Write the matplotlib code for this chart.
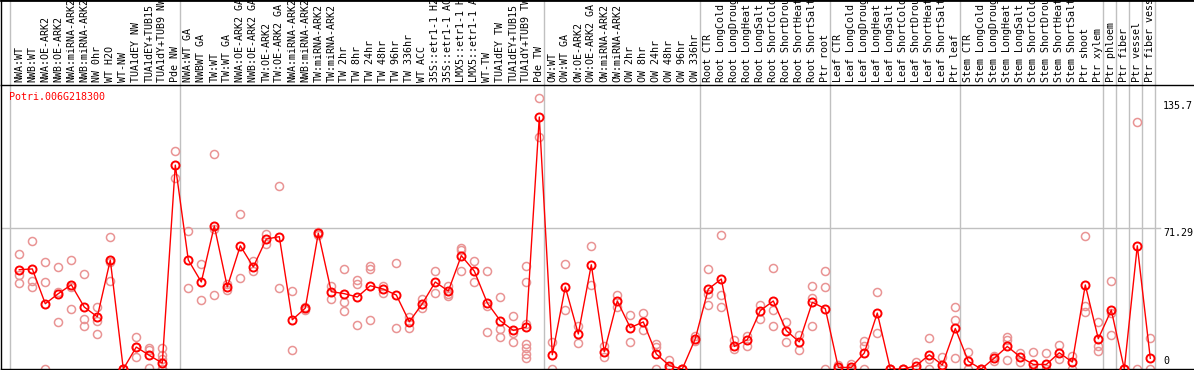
import matplotlib
matplotlib.use("Agg")
import matplotlib.pyplot as plt

# sample names (one column each)
samples = [
    "NWA:WT", "NWB:WT", "NWA:OE-ARK2", "NWB:OE-ARK2", "NWA:miRNA-ARK2",
    "NWB:miRNA-ARK2", "NW 0hr", "WT H2O", "WT-NW", "TUA1dEY NW",
    "TUA1dEY+TUB15", "TUA1dY+TUB9 NW", "Pde NW",
    "NWA:WT GA", "NWBWT GA", "TW:WT", "TW:WT GA", "NWA:OE-ARK2 GA",
    "NWB:OE-ARK2 GA", "TW:OE-ARK2", "TW:OE-ARK2 GA", "NWA:miRNA-ARK2",
    "NWB:miRNA-ARK2", "TW:miRNA-ARK2", "TW:miRNA-ARK2", "TW 2hr", "TW 8hr",
    "TW 24hr", "TW 48hr", "TW 96hr", "TW 336hr", "WT ACC",
    "35S::etr1-1 H2O", "35S::etr1-1 ACC", "LMX5::etr1-1 H2O",
    "LMX5::etr1-1 ACC", "WT-TW", "TUA1dEY TW", "TUA1dEY+TUB15",
    "TUA1dY+TUB9 TW", "Pde TW",
    "OW:WT", "OW:WT GA", "OW:OE-ARK2", "OW:OE-ARK2 GA", "OW:miRNA-ARK2",
    "OW:miRNA-ARK2", "OW 2hr", "OW 8hr", "OW 24hr", "OW 48hr", "OW 96hr",
    "OW 336hr",
    "Root CTR", "Root LongCold", "Root LongDrought", "Root LongHeat",
    "Root LongSalt", "Root ShortCold", "Root ShortDrought", "Root ShortHeat",
    "Root ShortSalt", "Ptr root",
    "Leaf CTR", "Leaf LongCold", "Leaf LongDrought", "Leaf LongHeat",
    "Leaf LongSalt", "Leaf ShortCold", "Leaf ShortDrought", "Leaf ShortHeat",
    "Leaf ShortSalt", "Ptr leaf",
    "Stem CTR", "Stem LongCold", "Stem LongDrought", "Stem LongHeat",
    "Stem LongSalt", "Stem ShortCold", "Stem ShortDrought", "Stem ShortHeat",
    "Stem ShortSalt", "Ptr shoot", "Ptr xylem", "Ptr phloem", "Ptr fiber",
    "Ptr vessel", "Ptr fiber vessel",
]

# mean expression per sample
means = [
    50.2, 50.6, 33.0, 38.1, 42.6, 31.3, 26.4, 55.1, 0.0, 11.1,
    6.9, 3.0, 103.1, 55.1, 44.0, 72.3, 41.5, 62.3, 51.6, 65.7,
    66.9, 24.9, 30.8, 68.7, 39.1, 38.1, 36.4, 42.1, 40.4, 37.4,
    23.9, 33.0, 44.0, 39.4, 57.3, 49.5, 33.4, 24.4, 19.5, 21.2,
    127.4, 7.2, 41.5, 17.7, 52.7, 8.7, 34.4, 20.9, 23.8, 7.6,
    1.7, 0.0, 15.3, 40.4, 45.5, 11.4, 14.8, 29.5, 34.4, 19.4,
    13.7, 33.7, 30.5, 0.8, 0.8, 8.1, 28.3, 0.0, 0.0, 1.7,
    7.2, 2.0, 20.5, 3.9, 0.0, 5.5, 11.4, 6.1, 2.3, 2.3,
    8.2, 3.5, 42.5, 15.3, 29.8, 0.0, 62.3, 5.4,
]

# individual replicates per sample
replicates = [
    [58.3, 47.5, 43.5], [64.9, 44.6, 41.5], [54.2, 44.0, 0], [51.7, 38.7, 23.9],
    [55.3, 41.3, 30.5], [48.2, 25.4, 21.7], [31.3, 24.1, 17.7], [66.9, 54.0, 44.3],
    [0, 0, 0], [16.2, 11.1, 6.1], [10.6, 9.8, 0.3], [10.6, 7.2, 5.0, 0, 0],
    [110.4, 96.6], [69.8, 40.9], [53.1, 34.9], [108.8, 70.8, 37.6],
    [43.0, 40.1], [78.4, 46.0], [54.4, 49.3], [68.4, 63.3],
    [92.5, 40.9], [39.6, 9.8], [31.5, 30.0], [69.5, 68.0],
    [42.1, 35.4], [50.6, 34.0, 29.3], [44.8, 43.1, 22.2], [51.9, 50.7, 24.6],
    [41.8, 38.4], [53.7, 20.9], [26.3, 20.9], [35.4, 30.8],
    [49.5, 38.4], [42.1, 38.1, 37.1], [61.3, 60.3, 49.5], [54.6, 44.0],
    [49.5, 32.0, 18.7], [36.4, 20.0, 16.3], [26.8, 18.2, 13.7],
    [52.2, 44.0, 22.5, 12.4, 10.6, 7.4, 5.4],
    [137.0, 117.3], [13.7, 0], [53.1, 30.0], [21.9, 13.1],
    [62.3, 42.5], [11.8, 6.1], [37.4, 31.3], [27.3, 13.7],
    [28.5, 19.7], [12.8, 11.1, 0], [4.7, 0], [0, 0],
    [16.5, 14.0], [50.6, 37.7, 32.4], [67.7, 37.6, 31.2], [14.8, 10.1],
    [16.5, 11.8], [32.5, 25.3], [51.1, 29.8, 21.5], [23.8, 13.7],
    [17.3, 9.4], [42.1, 35.9, 21.7], [49.5, 41.5, 0], [2.2, 0],
    [2.7, 0], [14.0, 11.4, 0], [39.1, 18.2], [0, 0],
    [0, 0], [3.4, 0], [15.8, 5.0, 0], [6.1, 0],
    [31.3, 24.8, 5.7], [8.6, 0], [0, 0], [6.7, 3.9],
    [16.2, 14.8, 4.5], [8.2, 3.4], [8.6, 0], [8.2, 0],
    [12.1, 5.0], [6.7, 0], [67.2, 32.0, 28.8], [23.8, 11.8, 9.1],
    [44.5, 28.3, 17.2], [0, 0], [124.9, 0], [15.8, 0],
]

# group separators: number of samples before each gray line
group_ends = [0, 13, 41, 53, 63, 73, 84, 85, 86, 87, 88]
gene_id = "Potri.006G218300"
y_ticks = [135.7, 71.29]

W, H = 1194, 370
fig = plt.figure(figsize=(W / 100, H / 100), dpi=100)
mono = "DejaVu Sans Mono"
fs = 7.2
grid_col = "#c0c0c0"

x0 = 19.3   # pixel centre of the first column
step = 13.0
xlim = ((1 - x0) / step, (W - x0) / step)

header_h = 85
ax = fig.add_axes([1 / W, 1 / H, 1 - 1 / W, (H - header_h - 1) / H])
hx = fig.add_axes([1 / W, (H - header_h) / H, 1 - 1 / W, header_h / H])

px_per_unit = 141.0 / 71.29
ax.set_xlim(*xlim)
ax.set_ylim(0, (H - 1 - header_h) / px_per_unit)
hx.set_xlim(*xlim)
hx.set_ylim(0, 1)

for a in (ax, hx):
    a.set_xticks([])
    a.set_yticks([])
    a.spines["right"].set_visible(False)
    for s in ("left", "bottom", "top"):
        a.spines[s].set_color("black")
        a.spines[s].set_linewidth(1.0)
ax.spines["top"].set_visible(False)
hx.spines["top"].set_linewidth(2.0)

# separators
for k in group_ends:
    xb = k - 1 + 0.38 if k > 0 else -0.72
    ax.axvline(xb, color=grid_col, lw=1.0, zorder=0)
    hx.axvline(xb, color=grid_col, lw=1.0, zorder=0)

ax.axhline(y_ticks[1], xmax=1160 / W, color=grid_col, lw=1.0, zorder=0)

# replicate points
for i, reps in enumerate(replicates):
    ax.plot([i] * len(reps), reps, linestyle="none", marker="o", ms=5.8,
            mfc="none", mec="#e99494", mew=1.1, zorder=2, clip_on=True)

# mean line
xs = list(range(len(means)))
ax.plot(xs, means, color="red", lw=1.0, marker="o", ms=5.8, mfc="none",
        mec="red", mew=1.4, zorder=3)

# header labels
for i, name in enumerate(samples):
    hx.text(i, 3 / header_h, name, rotation=90, ha="center", va="bottom",
            family=mono, fontsize=fs, color="black")

ax.text(8.5 / W, 1 - 7.5 / (H - header_h), gene_id, transform=ax.transAxes,
        ha="left", va="top", family=mono, fontsize=fs, color="red")

xt = (1163 - x0) / step
for v in y_ticks:
    ax.text(xt, v, f"{v:g}", ha="left", va="top", family=mono,
            fontsize=fs, color="black")
ax.text(xt, 1.5, "0", ha="left", va="bottom", family=mono, fontsize=fs,
        color="black")

fig.savefig("out.png", dpi=100, facecolor="white")
